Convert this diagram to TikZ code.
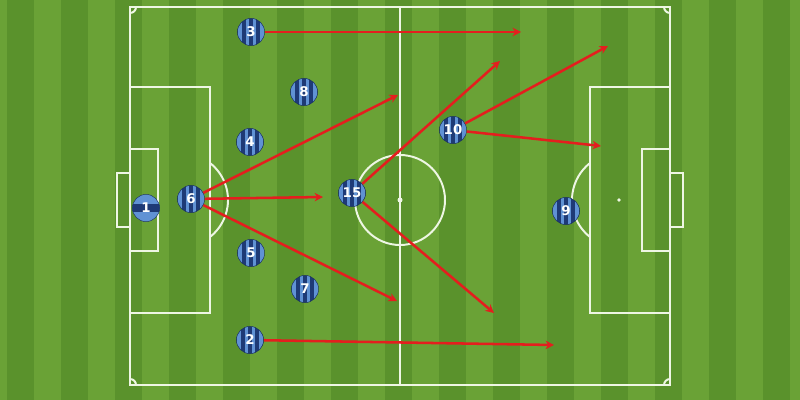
\documentclass[tikz,border=0pt]{standalone}
\usepackage{fontspec}
\newfontfamily\numfont{DejaVu Sans}
\usetikzlibrary{arrows.meta}
\definecolor{grassA}{RGB}{106,162,54}
\definecolor{grassB}{RGB}{90,146,44}
\definecolor{pline}{RGB}{238,246,228}
\definecolor{navy}{RGB}{30,58,118}
\definecolor{sky}{RGB}{96,146,212}
\definecolor{arrowred}{RGB}{228,30,30}
\begin{document}
\begin{tikzpicture}[x=0.025cm,y=-0.025cm,
  pitchline/.style={draw=pline,line width=1.4pt},
  player/.style={circle,inner sep=0pt,minimum size=0.68cm,text=white,
    font=\numfont\bfseries\fontsize{9.5}{10}\selectfont,draw=navy!80!black,line width=0.3pt,
    path picture={
      \fill[navy] (path picture bounding box.south west) rectangle (path picture bounding box.north east);
      \foreach \s in {-0.315,-0.135,0.045,0.225}{
        \fill[sky] ([xshift=\s cm,yshift=-0.4cm]path picture bounding box.center) rectangle ++(0.09cm,0.8cm);
      }
    }},
  keeper/.style={circle,inner sep=0pt,minimum size=0.68cm,text=white,
    font=\numfont\bfseries\fontsize{9.5}{10}\selectfont,draw=navy!80!black,line width=0.3pt,
    path picture={
      \fill[sky] (path picture bounding box.south west) rectangle (path picture bounding box.north east);
      \fill[navy] ([xshift=-0.4cm,yshift=-0.09cm]path picture bounding box.center) rectangle ++(0.8cm,0.18cm);
    }},
  pass/.style={draw=arrowred,line width=1.8pt,-{Stealth[length=6pt,width=6pt]}}]
\useasboundingbox (0,0) rectangle (800,400);
% grass
\fill[grassA] (0,0) rectangle (800,400);
\foreach \k in {0,...,14}{
  \fill[grassB] ({7+54*\k},0) rectangle ({34+54*\k},400);
}
% pitch lines
\draw[pitchline] (130,7) rectangle (670,385);
\draw[pitchline] (400,7) -- (400,385);
\draw[pitchline] (400,200) circle[radius=45];
\fill[pline] (400,200) circle[radius=2.5];
% left side
\draw[pitchline] (130,87) rectangle (210,313);
\draw[pitchline] (130,149) rectangle (158,251);
\draw[pitchline] (130,173) -- (117,173) -- (117,227) -- (130,227);
\draw[pitchline] (181,200) ++(-51.9:47) arc[start angle=-51.9,end angle=51.9,radius=47];
% right side
\draw[pitchline] (590,87) rectangle (670,313);
\draw[pitchline] (642,149) rectangle (670,251);
\draw[pitchline] (670,173) -- (683,173) -- (683,227) -- (670,227);
\draw[pitchline] (619,200) ++(128.1:47) arc[start angle=128.1,end angle=231.9,radius=47];
\fill[pline] (619,200) circle[radius=1.8];
% corner arcs
\draw[pitchline] (136,7) arc[start angle=0,end angle=90,radius=6];
\draw[pitchline] (664,7) arc[start angle=180,end angle=90,radius=6];
\draw[pitchline] (136,385) arc[start angle=0,end angle=-90,radius=6];
\draw[pitchline] (664,385) arc[start angle=180,end angle=270,radius=6];
% players
\node[keeper] (p1) at (146,208) {1};
\node[player] (p6) at (191,199) {6};
\node[player] (p3) at (251,32) {3};
\node[player] (p8) at (304,92) {8};
\node[player] (p4) at (250,142) {4};
\node[player] (p5) at (251,253) {5};
\node[player] (p7) at (305,289) {7};
\node[player] (p2) at (250,340) {2};
\node[player] (p15) at (352,193) {15};
\node[player] (p10) at (453,130) {10};
\node[player] (p9) at (566,211) {9};
% arrow targets
\coordinate (a3) at (521,32);
\coordinate (a6a) at (398,95);
\coordinate (a6b) at (323,197);
\coordinate (a6c) at (397,301);
\coordinate (a15a) at (500,61);
\coordinate (a15b) at (494,313);
\coordinate (a10a) at (608,46);
\coordinate (a10b) at (601,146);
\coordinate (a2) at (554,345);
% passes
\draw[pass] (p3) -- (a3);
\draw[pass] (p6) -- (a6a);
\draw[pass] (p6) -- (a6b);
\draw[pass] (p6) -- (a6c);
\draw[pass] (p15) -- (a15a);
\draw[pass] (p15) -- (a15b);
\draw[pass] (p10) -- (a10a);
\draw[pass] (p10) -- (a10b);
\draw[pass] (p2) -- (a2);
\end{tikzpicture}
\end{document}
